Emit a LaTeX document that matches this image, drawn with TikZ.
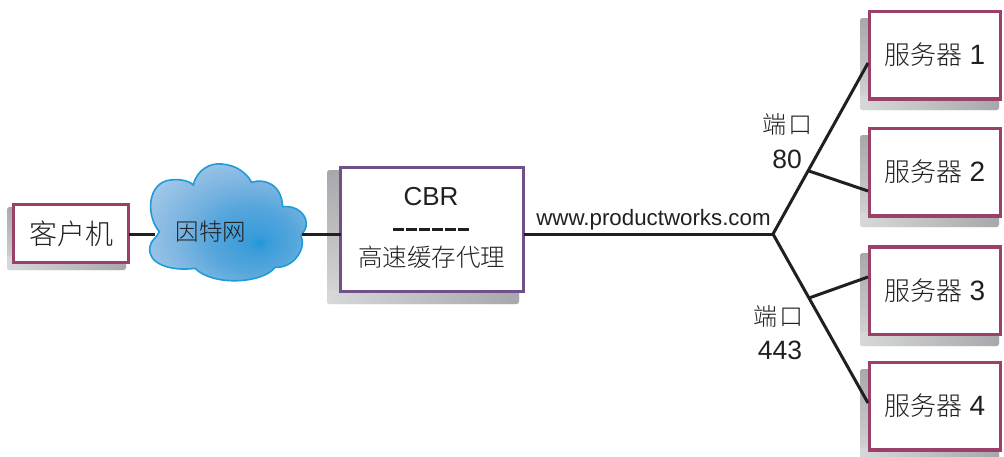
\documentclass[tikz,border=0pt]{standalone}
\usepackage{fontspec}
\setmainfont{Liberation Sans}
\newfontfamily\cjk{Noto Sans CJK SC Light}
\usetikzlibrary{calc}
\definecolor{ink}{HTML}{231F20}
\definecolor{rosebd}{HTML}{9B4068}
\definecolor{plumbd}{HTML}{6F5088}
\definecolor{shdark}{HTML}{A6A8AB}
\definecolor{shlight}{HTML}{D6D8D9}
\definecolor{cloudbd}{HTML}{1F9BD5}
\definecolor{cloudA}{HTML}{1E96D8}
\definecolor{cloudB}{HTML}{3A9CDA}
\definecolor{cloudE}{HTML}{55A6DC}
\definecolor{cloudC}{HTML}{7DB5E1}
\definecolor{cloudD}{HTML}{BAD5EE}
\pgfdeclareradialshading{cloudshade}{\pgfpoint{10bp}{-7.5bp}}{
  color(0bp)=(cloudA);
  color(3bp)=(cloudB);
  color(13bp)=(cloudE);
  color(22bp)=(cloudC);
  color(40bp)=(cloudD);
  color(60bp)=(cloudD)}
\newcommand{\cjksize}[2]{{\fontsize{#1}{#1}\cjk #2}}
\newcommand{\latsize}[2]{{\fontsize{#1}{#1}\selectfont #2}}
\newcommand{\servertext}[1]{\cjksize{26pt}{服务器}\hspace{7pt}\latsize{28pt}{#1}}
% drop shadow: x0,y0,x1,y1
\newcommand{\dropshadow}[4]{%
  \shade[rounded corners=2.5pt,top color=shdark,bottom color=shlight] (#1,#2) rectangle (#3,#4);
  \shade[rounded corners=2.5pt,left color=shlight,right color=shdark] (#1,#4-14) rectangle (#3,#4);
}
\tikzset{
  x=1pt,y=-1pt,
  box/.style={draw=#1,fill=white,line width=3.5pt,inner sep=0pt,outer sep=0pt,text=ink,align=center},
  serverbox/.style={box=rosebd,minimum width=131pt,minimum height=87.5pt},
  wire/.style={draw=ink,line width=3pt,line cap=butt,line join=miter},
  label/.style={text=ink,inner sep=0pt,outer sep=0pt,align=center},
}
\begin{document}
\begin{tikzpicture}
\useasboundingbox (0,0) rectangle (1004,456);
% shadows
\dropshadow{7}{207}{126}{270}
\dropshadow{327}{170}{519}{304}
\dropshadow{860}{18}{999}{110}
\dropshadow{860}{135}{999}{227}
\dropshadow{860}{253}{999}{346}
\dropshadow{860}{369}{999}{462}
% cloud
\begin{scope}[x=0.33333pt,y=-0.33333pt,yshift=-150pt]
\path[draw=cloudbd,line width=1.6pt,shading=cloudshade]
 (580,105) .. controls (590,60) and (630,38) .. (665,42)
 .. controls (710,45) and (740,70) .. (755,97)
 .. controls (790,85) and (845,100) .. (848,170)
 .. controls (890,165) and (925,195) .. (918,230)
 .. controls (915,245) and (905,250) .. (903,258)
 .. controls (920,290) and (885,355) .. (825,352)
 .. controls (790,400) and (640,410) .. (585,355)
 .. controls (510,365) and (440,340) .. (450,290)
 .. controls (452,270) and (470,265) .. (478,245)
 .. controls (440,200) and (440,110) .. (500,92)
 .. controls (530,85) and (565,90) .. (580,105) -- cycle;
\end{scope}
% nodes
\node[box=rosebd,minimum width=115pt,minimum height=58pt] (client) at (71,233.5) {\cjksize{28pt}{客户机}};
\node[label] (cloud) at (211,231.5) {\cjksize{23.5pt}{因特网}};
\node[box=plumbd,minimum width=183pt,minimum height=124pt] (cbr) at (432,229.5) {};
\node[label] (cbrtitle) at (431,197) {\latsize{26pt}{CBR}};
\node[label] (cbrsub) at (431.5,257) {\cjksize{24.5pt}{高速缓存代理}};
\node[serverbox] (s1) at (935,55) {\raisebox{1.5pt}{\servertext{1}}};
\node[serverbox] (s2) at (935,172) {\raisebox{1.5pt}{\servertext{2}}};
\node[serverbox] (s3) at (935,290.5) {\raisebox{1.5pt}{\servertext{3}}};
\node[serverbox] (s4) at (935,406) {\raisebox{1.5pt}{\servertext{4}}};
\node[label] (url) at (653.5,220) {\latsize{22.3pt}{www.productworks.com}};
\node[label] (p1a) at (787,124) {\cjksize{24pt}{端\hspace{2pt}口}};
\node[label] (p1b) at (787,159) {\latsize{26.5pt}{80}};
\node[label] (p2a) at (778,316) {\cjksize{24pt}{端\hspace{2pt}口}};
\node[label] (p2b) at (780,350) {\latsize{26.5pt}{443}};
% connector points
\coordinate (cloudL) at (155,234);
\coordinate (cloudR) at (302,234);
\coordinate (hub) at (773,234);
\coordinate (up) at (809,171);
\coordinate (down) at (809,298);
\coordinate (in1) at (868,63);
\coordinate (in2) at (868,191);
\coordinate (in3) at (868,277);
\coordinate (in4) at (868,403);
\coordinate (dashL) at (393,229);
\coordinate (dashR) at (469,229);
% connectors
\draw[wire] (client.east |- cloudL) -- (cloudL);
\draw[wire] (cloudR) -- (cbr.west |- cloudR);
\draw[wire] (cbr.east |- hub) -- (hub);
\draw[wire] (in1) -- (hub) -- (in4);
\draw[wire] (up) -- (in2);
\draw[wire] (down) -- (in3);
\draw[draw=ink,line width=3pt,dash pattern=on 11pt off 2pt] (dashL) -- (dashR);
\end{tikzpicture}
\end{document}
